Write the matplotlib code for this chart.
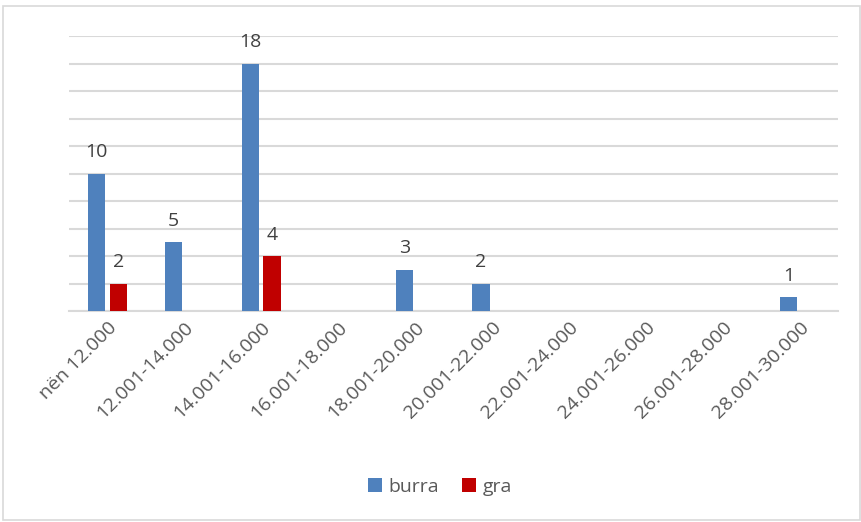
import matplotlib.pyplot as plt
import numpy as np
from matplotlib.patches import Rectangle

# income ranges and counts
categories = ["nën 12.000", "12.001-14.000", "14.001-16.000", "16.001-18.000",
              "18.001-20.000", "20.001-22.000", "22.001-24.000", "24.001-26.000",
              "26.001-28.000", "28.001-30.000"]
burra = [10, 5, 18, 0, 3, 2, 0, 0, 0, 1]
gra = [2, 0, 4, 0, 0, 0, 0, 0, 0, 0]

blue = "#4F81BD"
red = "#C00000"
text_col = "#595959"

plt.rcParams['font.family'] = ['Open Sans', 'DejaVu Sans']

fig = plt.figure(figsize=(8.62, 5.22), dpi=100)
ax = fig.add_axes([0.080, 0.404, 0.892, 0.527])

x = np.arange(len(categories))
w = 0.225
b1 = ax.bar(x - 0.14, burra, w, color=blue, label="burra", zorder=3)
b2 = ax.bar(x + 0.14, gra, w, color=red, label="gra", zorder=3)

# data labels, only for non-zero bars
for bars, vals in [(b1, burra), (b2, gra)]:
    for rect, v in zip(bars, vals):
        if v:
            ax.annotate(str(v), (rect.get_x() + rect.get_width() / 2, v),
                        xytext=(0, 9), textcoords="offset points",
                        ha="center", va="bottom", fontsize=14, color="#404040")

ax.set_xlim(-0.5, len(categories) - 0.5)
ax.set_ylim(0, 20)
ax.set_yticks(np.arange(0, 21, 2))
ax.yaxis.grid(True, color="#D9D9D9", linewidth=1.5, zorder=0)
ax.tick_params(axis="y", left=False, labelleft=False)
ax.tick_params(axis="x", length=0, pad=5)
ax.set_xticks(x)
ax.set_xticklabels(categories, rotation=45, ha="right", rotation_mode="anchor",
                   fontsize=14, color=text_col)
for s in ["top", "right", "left"]:
    ax.spines[s].set_visible(False)
ax.spines["bottom"].set_color("#D9D9D9")
ax.spines["bottom"].set_linewidth(1.5)

fig.legend(handles=[b1, b2], loc="center", bbox_to_anchor=(0.510, 0.067),
           ncol=2, frameon=False, fontsize=14, handlelength=0.75,
           handleheight=0.75, handletextpad=0.3, columnspacing=1.2,
           labelcolor=text_col)

fig.patches.append(Rectangle((0.004, 0.004), 0.994, 0.984, transform=fig.transFigure,
                             fill=False, edgecolor="#D9D9D9", linewidth=1.2))

fig.savefig("out.png", dpi=100)
